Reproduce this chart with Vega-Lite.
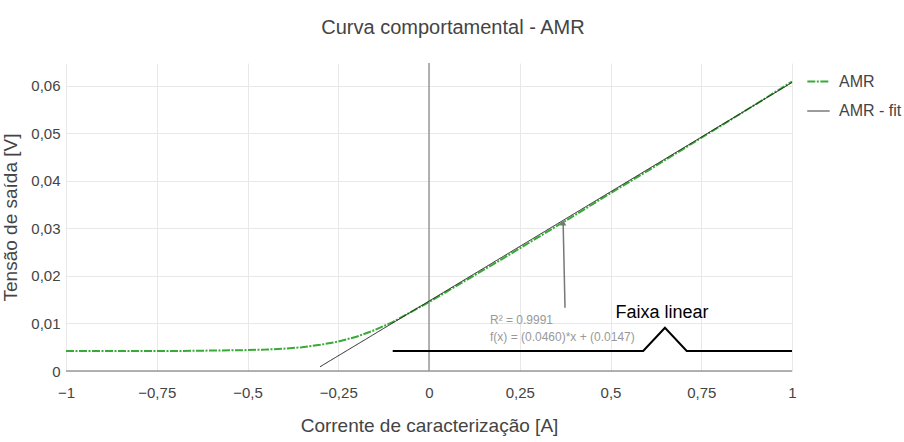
{
  "$schema": "https://vega.github.io/schema/vega-lite/v6.json",
  "width": 726,
  "height": 308,
  "autosize": {"type": "none"},
  "padding": {"left": 66, "top": 63, "right": 112, "bottom": 71},
  "background": "white",
  "title": {"text": "Curva comportamental - AMR", "fontSize": 20, "font": "Liberation Sans", "fontWeight": "normal", "color": "#444", "offset": 24, "dx": 24, "anchor": "middle"},
  "config": {
    "font": "Liberation Sans",
    "view": {"stroke": null},
    "axis": {"labelFont": "Liberation Sans", "titleFont": "Liberation Sans", "labelColor": "#444", "titleColor": "#444", "labelFontSize": 15, "titleFontSize": 19, "titleFontWeight": "normal", "gridColor": "#e8e8e8", "ticks": false, "domain": false, "labelFlush": false},
    "legend": {"labelFont": "Liberation Sans"}
  },
  "datasets": {
    "amr": [
      {"x": -1, "y": 0.0042, "s": "AMR"}, {"x": -0.9, "y": 0.0042, "s": "AMR"}, {"x": -0.8, "y": 0.0042, "s": "AMR"},
      {"x": -0.7, "y": 0.0042, "s": "AMR"}, {"x": -0.6, "y": 0.0043, "s": "AMR"}, {"x": -0.5, "y": 0.0044, "s": "AMR"},
      {"x": -0.45, "y": 0.0045, "s": "AMR"}, {"x": -0.4, "y": 0.0047, "s": "AMR"}, {"x": -0.35, "y": 0.005, "s": "AMR"},
      {"x": -0.3, "y": 0.0055, "s": "AMR"}, {"x": -0.25, "y": 0.0062, "s": "AMR"}, {"x": -0.2, "y": 0.0072, "s": "AMR"},
      {"x": -0.15, "y": 0.0086, "s": "AMR"}, {"x": -0.1, "y": 0.0103, "s": "AMR"}, {"x": -0.05, "y": 0.0124, "s": "AMR"},
      {"x": 0, "y": 0.0145, "s": "AMR"}, {"x": 0.1, "y": 0.019, "s": "AMR"}, {"x": 0.2, "y": 0.0235, "s": "AMR"},
      {"x": 0.3, "y": 0.0281, "s": "AMR"}, {"x": 0.4, "y": 0.0327, "s": "AMR"}, {"x": 0.5, "y": 0.0374, "s": "AMR"},
      {"x": 0.6, "y": 0.042, "s": "AMR"}, {"x": 0.7, "y": 0.0467, "s": "AMR"}, {"x": 0.8, "y": 0.0514, "s": "AMR"},
      {"x": 0.9, "y": 0.0561, "s": "AMR"}, {"x": 1, "y": 0.0609, "s": "AMR"},
      {"x": -0.3, "y": 0.0009, "s": "AMR - fit"}, {"x": 1, "y": 0.0607, "s": "AMR - fit"}
    ],
    "faixa": [
      {"x": -0.1, "y": 0.0042}, {"x": 0.59, "y": 0.0042}, {"x": 0.65, "y": 0.0091}, {"x": 0.71, "y": 0.0042}, {"x": 1, "y": 0.0042}
    ],
    "arrow": [
      {"x": 0.3747, "y": 0.0133, "x2": 0.3695, "y2": 0.0312}
    ],
    "labels": [
      {"x": 0.168, "y": 0.0107, "t": "R² = 0.9991"},
      {"x": 0.168, "y": 0.0072, "t": "f(x) = (0.0460)*x + (0.0147)"}
    ],
    "faixaLabel": [{"x": 0.642, "y": 0.0122, "t": "Faixa linear"}],
    "zero": [{"v": 0}]
  },
  "layer": [
    {
      "data": {"name": "zero"},
      "mark": {"type": "rule", "color": "#9a9a9a", "strokeWidth": 1.5},
      "encoding": {
        "x": {"field": "v", "type": "quantitative", "scale": {"domain": [-1, 1]},
          "axis": {"values": [-1, -0.75, -0.5, -0.25, 0, 0.25, 0.5, 0.75, 1], "labelExpr": "replace(format(datum.value, '~g'), '.', ',')", "title": "Corrente de caracterização [A]", "labelPadding": 14, "titlePadding": 16}}
      }
    },
    {
      "data": {"name": "zero"},
      "mark": {"type": "rule", "color": "#9a9a9a", "strokeWidth": 1.5},
      "encoding": {
        "y": {"field": "v", "type": "quantitative", "scale": {"domain": [0, 0.0648], "nice": false},
          "axis": {"values": [0, 0.01, 0.02, 0.03, 0.04, 0.05, 0.06], "labelExpr": "replace(format(datum.value, '~g'), '.', ',')", "title": "Tensão de saída [V]", "labelPadding": 6, "titlePadding": 10}}
      }
    },
    {
      "data": {"name": "faixa"},
      "mark": {"type": "line", "color": "#000", "strokeWidth": 2},
      "encoding": {
        "x": {"field": "x", "type": "quantitative"},
        "y": {"field": "y", "type": "quantitative"}
      }
    },
    {
      "data": {"name": "amr"},
      "mark": {"type": "line"},
      "encoding": {
        "x": {"field": "x", "type": "quantitative"},
        "y": {"field": "y", "type": "quantitative"},
        "color": {"field": "s", "type": "nominal", "scale": {"domain": ["AMR", "AMR - fit"], "range": ["#38aa36", "#222222"]}, "legend": {"title": null, "orient": "none", "legendX": 740, "legendY": 6, "symbolType": "stroke", "symbolSize": 500, "symbolStrokeWidth": 1.5, "labelFontSize": 16, "labelColor": "#444", "rowPadding": 9, "labelOffset": 8}},
        "strokeDash": {"field": "s", "type": "nominal", "scale": {"domain": ["AMR", "AMR - fit"], "range": [[8, 1.5, 2, 1.5], [1, 0]]}},
        "strokeWidth": {"field": "s", "type": "nominal", "scale": {"domain": ["AMR", "AMR - fit"], "range": [2, 1]}, "legend": null}
      }
    },
    {
      "data": {"name": "arrow"},
      "mark": {"type": "rule", "color": "#777", "strokeWidth": 1.5},
      "encoding": {
        "x": {"field": "x", "type": "quantitative"},
        "y": {"field": "y", "type": "quantitative"},
        "x2": {"field": "x2"},
        "y2": {"field": "y2"}
      }
    },
    {
      "data": {"name": "arrow"},
      "mark": {"type": "point", "shape": "triangle-up", "filled": true, "color": "#777", "size": 40, "opacity": 1},
      "encoding": {
        "x": {"field": "x2", "type": "quantitative"},
        "y": {"field": "y2", "type": "quantitative"}
      }
    },
    {
      "data": {"name": "labels"},
      "mark": {"type": "text", "align": "left", "baseline": "middle", "fontSize": 12, "color": "#999"},
      "encoding": {
        "x": {"field": "x", "type": "quantitative"},
        "y": {"field": "y", "type": "quantitative"},
        "text": {"field": "t"}
      }
    },
    {
      "data": {"name": "faixaLabel"},
      "mark": {"type": "text", "align": "center", "baseline": "middle", "fontSize": 18, "color": "#000"},
      "encoding": {
        "x": {"field": "x", "type": "quantitative"},
        "y": {"field": "y", "type": "quantitative"},
        "text": {"field": "t"}
      }
    }
  ]
}
